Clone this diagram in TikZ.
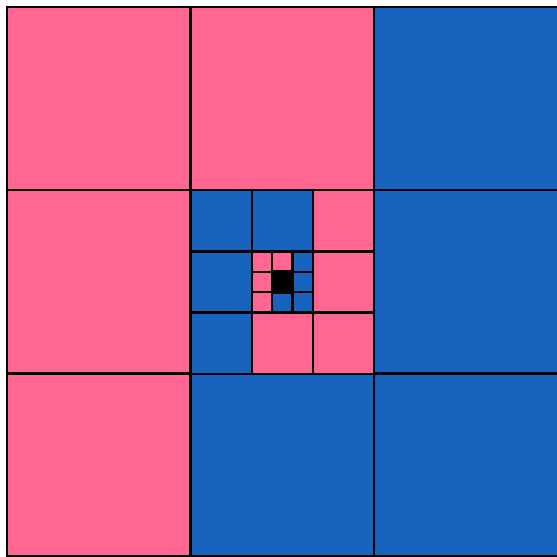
\documentclass[tikz,border=0pt]{standalone}
\usepackage{tikz}
\definecolor{tilepink}{HTML}{FF6691}
\definecolor{tileblue}{HTML}{1763BE}

\begin{document}
\begin{tikzpicture}[x=0.02cm,y=-0.02cm,
  cell/.style={draw=black,line width=1.3pt},
  pinkcell/.style={cell,fill=tilepink},
  bluecell/.style={cell,fill=tileblue},
  corecell/.style={cell,fill=black,line width=1.6pt}]

  \useasboundingbox (0,0) rectangle (557,557);

  % outer ring of the 3x3 grid
  \foreach \c/\r/\k in {0/0/pinkcell,1/0/pinkcell,2/0/bluecell,
                        0/1/pinkcell,2/1/bluecell,
                        0/2/pinkcell,1/2/bluecell,2/2/bluecell}
    \draw[\k] ({7+\c*183.5},{7+\r*183.2}) rectangle +(185,183.2);

  % middle ring
  \foreach \c/\r/\k in {0/0/bluecell,1/0/bluecell,2/0/pinkcell,
                        0/1/bluecell,2/1/pinkcell,
                        0/2/bluecell,1/2/pinkcell,2/2/pinkcell}
    \draw[\k] ({190.5+\c*61.17},{190.2+\r*61.17}) rectangle +(61.17,61.17);

  % inner ring
  \foreach \c/\r/\k in {0/0/pinkcell,1/0/pinkcell,2/0/bluecell,
                        0/1/pinkcell,2/1/bluecell,
                        0/2/pinkcell,1/2/bluecell,2/2/bluecell}
    \draw[\k] ({251.67+\c*20.39},{251.37+\r*20.39}) rectangle +(20.39,20.39);

  % core
  \draw[corecell] (272.06,271.76) rectangle +(20.39,20.39);
\end{tikzpicture}
\end{document}
